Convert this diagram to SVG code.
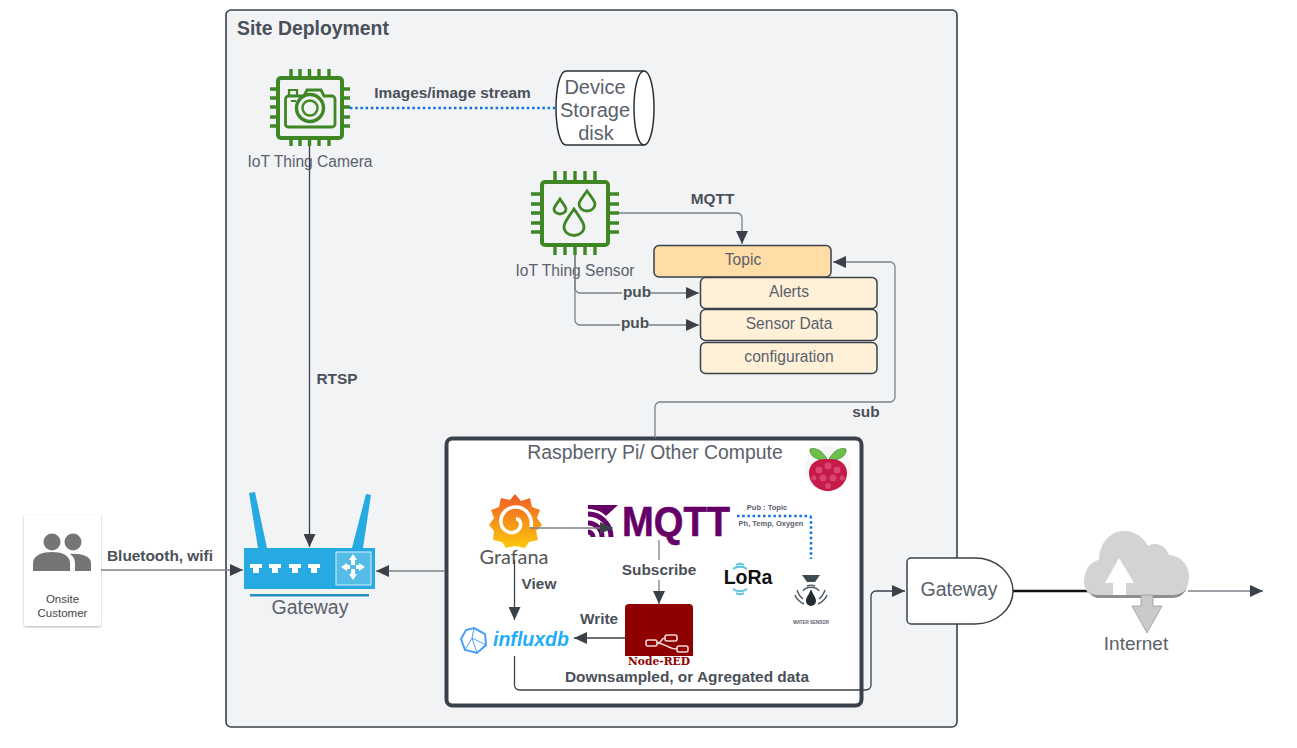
<svg xmlns="http://www.w3.org/2000/svg" width="1297" height="748" viewBox="0 0 1297 748">
<defs>
<style>
text{font-family:"Liberation Sans",Arial,sans-serif;fill:#5a616b}
.b{font-weight:700;fill:#4a5059;font-size:15.400px}
.m{text-anchor:middle}
.c{fill:none;stroke:#7b818a;stroke-width:1.3}
.d{fill:none;stroke:#3a414a;stroke-width:1.3}
.dot{fill:none;stroke:#1071e5;stroke-width:2.5;stroke-dasharray:2.5 2.7}
.chip{fill:none;stroke:#3f8624;stroke-width:4}
.pin{fill:none;stroke:#3f8624;stroke-width:3.4}
.tb{stroke:#3a414a;stroke-width:1.5;fill:#fff1d8}
.t{font-size:15.600px}
</style>
<marker id="a" markerUnits="userSpaceOnUse" markerWidth="14" markerHeight="12" refX="13" refY="6" orient="auto"><path d="M0 0L13 6L0 12Z" fill="#3a414a"/></marker>
<linearGradient id="gf" x1="0" y1="0" x2="0" y2="1"><stop offset="0" stop-color="#f05a28"/><stop offset="1" stop-color="#fbca0a"/></linearGradient>
<filter id="sh" x="-10%" y="-10%" width="120%" height="120%"><feDropShadow dx="0" dy="1" stdDeviation="1" flood-opacity=".3"/></filter>
</defs>
<rect width="1297" height="748" fill="#fff"/>
<g id="site-deployment"><rect x="226" y="10" width="731" height="717" rx="5" fill="#f2f3f5" stroke="#3a414a" stroke-width="1.6"/>
<text x="237" y="35" style="font-size:19.400px;font-weight:700;fill:#4a5059">Site Deployment</text></g>

<g id="compute"><rect x="446.500" y="438.500" width="415" height="267" rx="6" fill="#fff" stroke="#3a414a" stroke-width="4"/>
<text x="655" y="459" class="m" style="font-size:19.400px">Raspberry Pi/ Other Compute</text></g>

<g id="camera">
<rect class="chip" x="278" y="78" width="64" height="60" rx="3"/>
<path class="pin" d="M291 69V78M300 69V78M309.500 69V78M319 69V78M329 69V78M291 138V146M300 138V146M309.500 138V146M319 138V146M329 138V146M270 89H278M270 98H278M270 107H278M270 117H278M270 126H278M342 89H350M342 98H350M342 107H350M342 117H350M342 126H350"/>
<path class="pin" d="M285.500 123V99a3 3 0 0 1 3-3H304l3-6h14l3 6h8a3 3 0 0 1 3 3V124a3 3 0 0 1-3 3H288a3 3 0 0 1-2.500-4Z" style="stroke-width:2.800"/>
<path class="pin" d="M289 96V90h8v6M291 101H296" style="stroke-width:2.200"/>
<circle class="pin" cx="310" cy="108" r="13.500" style="stroke-width:3.400"/><circle class="pin" cx="310" cy="108" r="7.500" style="stroke-width:2.400"/>
<text x="310" y="167" class="m t">IoT Thing Camera</text>
</g>

<g id="storage">
<path d="M566 71H644C650 71 654 88 654 108S650 145 644 145H566C560 145 556 128 556 108S560 71 566 71Z" fill="#fff" stroke="#2b3038" stroke-width="1.500"/>
<path d="M644 71C638 71 634 88 634 108S638 145 644 145" fill="none" stroke="#2b3038" stroke-width="1.500"/>
<text class="m" style="font-size:20px" x="595" y="94">Device</text>
<text class="m" style="font-size:20px" x="595" y="117">Storage</text>
<text class="m" style="font-size:20px" x="596" y="140">disk</text>
</g>

<g id="sensor">
<rect class="chip" x="542" y="182" width="66" height="63" rx="3"/>
<path class="pin" d="M555 171V182M565 171V182M575 171V182M585 171V182M595 171V182M555 245V255M565 245V255M575 245V255M585 245V255M595 245V255M531 194H542M531 204H542M531 213H542M531 223H542M531 232H542M608 194H619M608 204H619M608 213H619M608 223H619M608 232H619"/>
<path class="pin" style="stroke-width:2.800" d="M574 209C568 218 564 222 564 227A10 8.500 0 0 0 584 227C584 222 580 218 574 209Z"/>
<path class="pin" style="stroke-width:2.800" d="M560 199C556 205 554 207 554 209A6 5 0 0 0 566 209C566 207 564 205 560 199Z"/>
<path class="pin" style="stroke-width:2.800" d="M587 191C582 198 579 201 579 204A8 7 0 0 0 595 204C595 201 592 198 587 191Z"/>
<text x="575" y="276" class="m t">IoT Thing Sensor</text>
</g>

<g id="topic"><rect x="654" y="245.500" width="177" height="31.500" rx="5" stroke="#3a414a" stroke-width="1.500" fill="#ffdda6"/><text x="743" y="265" class="m t">Topic</text></g>
<g id="alerts"><rect class="tb" x="700.500" y="277.500" width="176.500" height="31" rx="5"/><text x="789" y="297" class="m t">Alerts</text></g>
<g id="sensor-data"><rect class="tb" x="700.500" y="309.500" width="176.500" height="31" rx="5"/><text x="789" y="329" class="m t">Sensor Data</text></g>
<g id="configuration"><rect class="tb" x="700.500" y="342.500" width="176.500" height="31" rx="5"/><text x="789" y="362" class="m t">configuration</text></g>

<g id="customer"><rect x="24" y="515" width="77" height="111" rx="2" fill="#fff" filter="url(#sh)"/>
<g fill="#757575"><circle cx="52" cy="542" r="8.500"/><circle cx="73" cy="542" r="8.500"/><path d="M33 571V563C33 555 43 552 52 552S70 555 70 563V571Z"/><path d="M75 571V563C75 559 73 556 70 554C80 553 91 556 91 563V571Z"/></g>
<text x="62.500" y="603" class="m" style="font-size:11.500px;fill:#444">Onsite</text><text x="62.500" y="617" class="m" style="font-size:11.500px;fill:#444">Customer</text></g>

<g id="router">
<path d="M249 493L255 492L267 548H258ZM366 494L371 495L363 548H352Z" fill="#27aae1"/>
<rect x="244" y="548" width="131" height="41" fill="#27aae1"/>
<rect x="336" y="552" width="35" height="33" fill="#55bbe7" stroke="#d6effa" stroke-width="1"/>
<g fill="#fff"><path d="M250 564H262V568H259V573H253V568H250ZM269 564H281V568H278V573H272V568H269ZM289 564H301V568H298V573H292V568H289ZM308 564H320V568H317V573H311V568H308Z"/>
<path d="M353 554L357 560H355V565H351V560H349ZM353 580L357 574H355V569H351V574H349ZM341 567L347 563V565H350V569H347V571ZM365 567L359 563V565H356V569H359V571Z"/></g>
<rect x="250" y="594" width="119" height="2.500" fill="#1f8fbf"/>
<text x="310" y="614" class="m" style="font-size:19.500px">Gateway</text></g>

<g id="raspberry">
<circle cx="828" cy="469" r="23" fill="#f5f5f5"/>
<path d="M827 459C822 450 815 447 810 449C809 455 816 461 827 460ZM829 459C834 450 841 447 846 449C847 455 840 461 829 460Z" fill="#6cc04a" stroke="#2d7a2d" stroke-width=".6"/>
<path d="M828 459C840 458 847 464 847 473C847 484 837 491 828 491S809 484 809 473C809 464 816 458 828 459Z" fill="#c51a4a"/>
<g fill="#d9456c"><circle cx="828" cy="466" r="3.500"/><circle cx="819" cy="470" r="3.500"/><circle cx="837" cy="470" r="3.500"/><circle cx="814" cy="478" r="2.500"/><circle cx="842" cy="478" r="2.500"/><circle cx="823" cy="478" r="3.500"/><circle cx="833" cy="478" r="3.500"/><circle cx="828" cy="486" r="3"/></g>
</g>

<g id="grafana">
<path d="M515 494L521 501L530 498L532 507L540 510L537 518L542 525L536 531L538 540L529 542L525 548L515 546L506 548L502 542L493 540L494 531L489 525L494 518L491 510L499 507L501 498L510 500Z" fill="url(#gf)"/>
<path d="M531 527C533 517 526 507 516 507C506 507 500 515 501 523C502 531 511 535 517 531C523 527 521 519 516 519" fill="none" stroke="#fff" stroke-width="3.500"/>
<text x="514" y="564" class="m" style="font-family:Lato,sans-serif;font-size:19px;fill:#555" textLength="69" lengthAdjust="spacingAndGlyphs">Grafana</text></g>

<g id="mqtt">
<path d="M588 505H618L606 516C601 511 595 509 588 509Z" fill="#660066"/>
<path d="M588 514A23 23 0 0 1 611 537M588 523A14 14 0 0 1 602 537M588 532A5 5 0 0 1 593 537" fill="none" stroke="#660066" stroke-width="5"/>
<text x="622" y="536" style="font-size:43px;font-weight:700;fill:#660066;stroke:#660066;stroke-width:.6" textLength="108" lengthAdjust="spacingAndGlyphs">MQTT</text></g>

<g id="node-red">
<path d="M625 608a4 4 0 0 1 4-4H689a4 4 0 0 1 4 4V656H625Z" fill="#8f0000"/>
<g fill="none" stroke="#f0d8d8" stroke-width="1.600"><rect x="646" y="640" width="11" height="6" rx="2"/><rect x="665" y="635" width="12" height="6" rx="2"/><rect x="677" y="646" width="11" height="6" rx="2"/><path d="M657 643C663 643 660 638 665 638M657 643C665 643 668 649 677 649"/></g>
<text x="659" y="665" class="m" style="font-family:'DejaVu Serif',serif;font-size:11.500px;font-weight:700;fill:#8f0000" textLength="62" lengthAdjust="spacingAndGlyphs">Node-RED</text></g>

<g id="influxdb">
<path d="M474 628L485 634L486 645L477 653L465 650L461 639L466 630Z" fill="none" stroke="#4a9ff5" stroke-width="2"/>
<path d="M474 628L472 638L486 645M472 638L465 650M472 638L477 653" fill="none" stroke="#4a9ff5" stroke-width="1"/>
<text x="531" y="646" class="m" style="font-size:20px;font-weight:700;font-style:italic;fill:#22adf6" textLength="76" lengthAdjust="spacingAndGlyphs">influxdb</text></g>

<g id="lora">
<text x="748" y="584" class="m" style="font-size:19.500px;font-weight:700;fill:#111">LoRa</text>
<path d="M733 569C737 566 743 566 747 569M736 565C739 563 741 563 744 565M733 589C737 592 743 592 747 589M736 593C739 595 741 595 744 593" fill="none" stroke="#5bc4de" stroke-width="2"/>
</g>

<g id="water-sensor">
<path d="M802 575H820L815 582H807Z" fill="#3d4a52"/>
<path d="M811 589C809 595 806 597 806 601A5 5 0 0 0 816 601C816 597 813 595 811 589Z" fill="#222c33"/>
<path d="M807 586C809 585 813 585 815 586M803 591C806 586 816 586 819 591M803 599C799 596 798 593 797 590M819 599C823 596 824 593 825 590M804 604C798 601 796 598 795 595M818 604C824 601 826 598 827 595" fill="none" stroke="#4e5b63" stroke-width="1.400"/>
<text x="811" y="624" class="m" style="font-size:4.500px;font-weight:700">WATER SENSOR</text></g>

<g id="connectors">
<path class="d" d="M309.500 146V547" marker-end="url(#a)"/>
<path class="dot" d="M350 108H556"/>
<path class="c" d="M619 213H737a5 5 0 0 1 5 5V244" marker-end="url(#a)"/>
<path class="c" d="M575 255V288a5 5 0 0 0 5 5H699" marker-end="url(#a)"/>
<path class="c" d="M575 255V320a5 5 0 0 0 5 5H699" marker-end="url(#a)"/>
<path class="c" d="M655 438V407a5 5 0 0 1 5-5H890a5 5 0 0 0 5-5V267a5 5 0 0 0-5-5H833" marker-end="url(#a)"/>
<path class="c" d="M101 570H243" marker-end="url(#a)"/>
<path class="c" d="M445 571H376" marker-end="url(#a)"/>
<path class="c" d="M530 528H613" marker-end="url(#a)"/>
<path class="c" d="M659 540V604" marker-end="url(#a)"/>
<path class="d" d="M514.500 560V620" marker-end="url(#a)"/>
<path class="d" d="M625 638H574" marker-end="url(#a)"/>
<path class="d" d="M514.500 656V685a5 5 0 0 0 5 5H866a5 5 0 0 0 5-5V596a5 5 0 0 1 5-5H905" marker-end="url(#a)"/>
<path class="dot" d="M737 516H809a2 2 0 0 1 2 2V559"/>
<path d="M1013 591H1090" stroke="#111" stroke-width="2.500" fill="none"/>
<path class="c" d="M1188 591H1263" marker-end="url(#a)"/>
</g>

<g id="labels">
<rect x="622" y="286" width="29" height="12" fill="#f2f3f5"/><rect x="620" y="318" width="29" height="12" fill="#f2f3f5"/>
<text x="452.500" y="98" class="b m">Images/image stream</text>
<text x="712.500" y="204" class="b m">MQTT</text>
<text x="637" y="297" class="b m">pub</text>
<text x="635" y="328" class="b m">pub</text>
<text x="866" y="417" class="b m">sub</text>
<text x="337" y="384" class="b m">RTSP</text>
<text x="160" y="561" class="b m">Bluetooth, wifi</text>
<text x="539" y="589" class="b m">View</text>
<rect x="620" y="560" width="78" height="20" fill="#fff"/>
<text x="659" y="575" class="b m">Subscribe</text>
<text x="599" y="624" class="b m">Write</text>
<text x="687" y="682" class="b m">Downsampled, or Agregated data</text>
<text x="767" y="510" class="m" style="font-size:7.500px;font-weight:700">Pub : Topic</text>
<text x="771" y="526" class="m" style="font-size:7.500px;font-weight:700">Ph, Temp, Oxygen</text>
</g>

<g id="gateway-out">
<path d="M911 558H975C996 558 1013 573 1013 591S996 624 975 624H911a4 4 0 0 1-4-4V562a4 4 0 0 1 4-4Z" fill="#fff" stroke="#3a414a" stroke-width="1.500"/>
<text x="959" y="596" class="m" style="font-size:19.500px">Gateway</text></g>

<g id="internet">
<path d="M1098 598C1086 596 1082 585 1085 575C1087 566 1093 561 1099 560C1099 542 1112 530 1125 531C1135 531 1144 538 1148 546C1153 542 1165 543 1169 555C1182 556 1190 567 1189 578C1188 590 1182 597 1172 598Z" fill="#d2d3d3"/>
<path d="M1089 591C1092 596 1095 598 1098 598H1172C1178 598 1184 595 1187 588C1182 594 1178 595 1172 595H1098C1094 595 1091 594 1089 591Z" fill="#8e8e8e"/>
<path d="M1119 558L1134 583H1126V595H1113V583H1105Z" fill="#fff"/>
<path d="M1141 595H1153V606H1162L1147 633L1132 606H1141Z" fill="#c9caca" stroke="#999" stroke-width=".8"/>
<text x="1136" y="650" class="m" style="font-size:19px">Internet</text></g>
</svg>
